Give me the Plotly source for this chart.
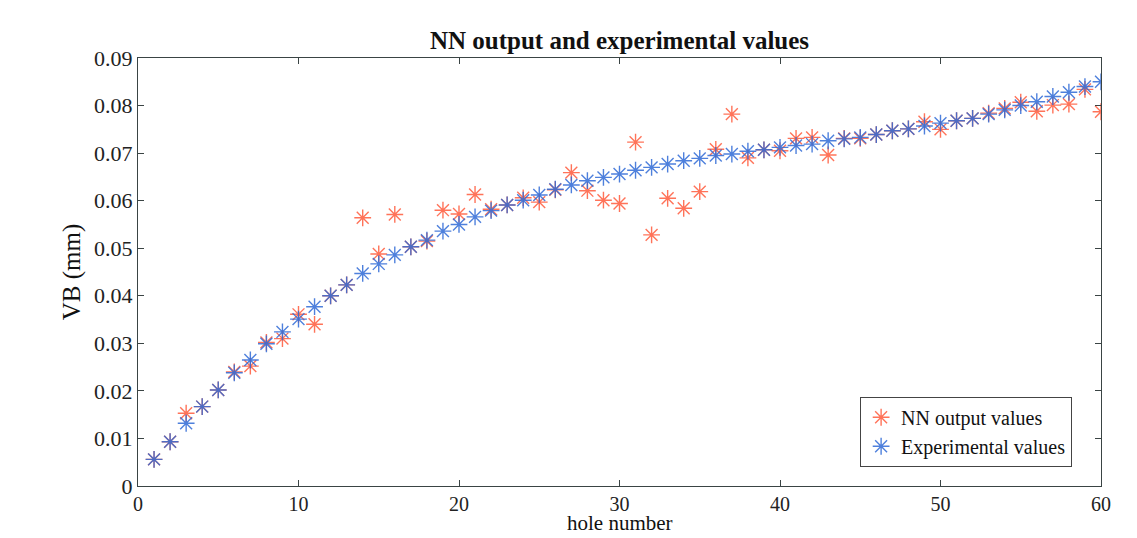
import plotly.graph_objects as go

hole = list(range(1, 61))

nn_output = [
    0.0056, 0.0093, 0.0153, 0.0167, 0.0202, 0.0240, 0.0252, 0.0302, 0.0310, 0.0361,
    0.0340, 0.0400, 0.0423, 0.0564, 0.0488, 0.0571, 0.0503, 0.0515, 0.0580, 0.0572,
    0.0613, 0.0582, 0.0591, 0.0606, 0.0597, 0.0623, 0.0659, 0.0621, 0.0601, 0.0594,
    0.0723, 0.0528, 0.0605, 0.0584, 0.0619, 0.0708, 0.0782, 0.0690, 0.0707, 0.0705,
    0.0731, 0.0733, 0.0696, 0.0731, 0.0731, 0.0739, 0.0747, 0.0751, 0.0766, 0.0750,
    0.0768, 0.0773, 0.0784, 0.0794, 0.0807, 0.0788, 0.0801, 0.0803, 0.0834, 0.0787,
]

experimental = [
    0.0056, 0.0093, 0.0132, 0.0167, 0.0202, 0.0238, 0.0265, 0.0299, 0.0324, 0.0351,
    0.0377, 0.0400, 0.0423, 0.0447, 0.0467, 0.0486, 0.0503, 0.0517, 0.0536, 0.0550,
    0.0566, 0.0579, 0.0591, 0.0601, 0.0612, 0.0624, 0.0633, 0.0642, 0.0649, 0.0656,
    0.0664, 0.0670, 0.0677, 0.0684, 0.0689, 0.0695, 0.0698, 0.0704, 0.0707, 0.0712,
    0.0716, 0.0719, 0.0726, 0.0730, 0.0733, 0.0739, 0.0747, 0.0751, 0.0757, 0.0763,
    0.0768, 0.0773, 0.0782, 0.0791, 0.0800, 0.0808, 0.0819, 0.0828, 0.0840, 0.0850,
]

x_ticks = [0, 10, 20, 30, 40, 50, 60]
y_ticks = [0, 0.01, 0.02, 0.03, 0.04, 0.05, 0.06, 0.07, 0.08, 0.09]
y_tick_labels = ["0", "0.01", "0.02", "0.03", "0.04", "0.05", "0.06", "0.07", "0.08", "0.09"]

FONT = "Liberation Serif"
AXIS_COLOR = "#3a4444"

fig = go.Figure()
fig.add_trace(go.Scatter(
    x=hole, y=nn_output, mode="markers", name="NN output values",
    marker=dict(symbol="asterisk-open", size=14, color="#ff5a3c",
                line=dict(width=1.4, color="#ff5a3c"), opacity=0.85),
))
fig.add_trace(go.Scatter(
    x=hole, y=experimental, mode="markers", name="Experimental values",
    marker=dict(symbol="asterisk-open", size=14, color="#2f6ad6",
                line=dict(width=1.4, color="#2f6ad6"), opacity=0.85),
))

axis_common = dict(
    showline=True, linecolor=AXIS_COLOR, linewidth=1.2, mirror="ticks",
    ticks="inside", ticklen=6, tickcolor=AXIS_COLOR, tickwidth=1,
    showgrid=False, zeroline=False, automargin=False,
)

fig.update_layout(
    width=1137, height=538,
    margin=dict(l=138, r=36, t=58, b=52),
    paper_bgcolor="white", plot_bgcolor="white",
    title=dict(text="<b>NN output and experimental values</b>",
               font=dict(family=FONT, size=25, color="#111"),
               x=(138 + 1101) / 2 / 1137, xanchor="center", y=0.925, yanchor="middle"),
    xaxis=dict(range=[0, 60], tickvals=x_ticks, ticktext=[str(v) for v in x_ticks],
               tickfont=dict(family=FONT, size=20, color="#222"),
               **axis_common),
    yaxis=dict(range=[0, 0.09], tickvals=y_ticks, ticktext=y_tick_labels,
               tickfont=dict(family=FONT, size=22, color="#222"),
               title=dict(text="VB (mm)", font=dict(family=FONT, size=25, color="#111"), standoff=6),
               **axis_common),
    legend=dict(x=0.970, y=0.045, xanchor="right", yanchor="bottom",
                bordercolor="#444", borderwidth=1, bgcolor="white",
                font=dict(family=FONT, size=20, color="#111"),
                itemwidth=30, tracegroupgap=0),
    showlegend=True,
)

fig.add_annotation(
    text="hole number", xref="paper", yref="paper", x=0.5, y=-0.118,
    xanchor="center", yanchor="bottom", showarrow=False,
    font=dict(family=FONT, size=21, color="#111"),
)

fig.write_html("out.html")
